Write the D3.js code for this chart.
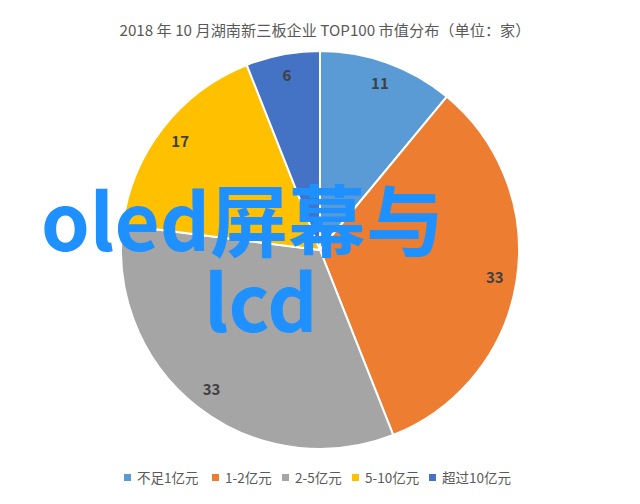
<!DOCTYPE html>
<html><head><meta charset="utf-8">
<script src="https://cdn.jsdelivr.net/npm/d3@7/dist/d3.min.js"></script>
<style>body{margin:0;background:#fff;}svg{display:block;}</style>
</head><body>
<svg id="c" width="640" height="504"></svg>
<script>
const categories = ["不足1亿元", "1-2亿元", "2-5亿元", "5-10亿元", "超过10亿元"];
const values = [11, 33, 33, 17, 6];
const colors = ["#5B9BD5", "#ED7D31", "#A5A5A5", "#FFC000", "#4472C4"];
const title = "2018 年 10 月湖南新三板企业 TOP100 市值分布（单位：家）";
const overlay = ["oled屏幕与", "lcd"];

const svg = d3.select("#c");
const font = "'Noto Sans CJK SC','Noto Sans',sans-serif";
const cx = 320, cy = 250, R = 199, LR = 177;

svg.append("text").attr("x", 325).attr("y", 36).attr("text-anchor", "middle")
  .attr("font-family", font).attr("font-size", 15.2).attr("fill", "#595959").text(title);

const pie = d3.pie().sort(null).value(d => d)(values);
const arc = d3.arc().innerRadius(0).outerRadius(R);
const larc = d3.arc().innerRadius(LR).outerRadius(LR);
const g = svg.append("g").attr("transform", `translate(${cx},${cy})`);
g.selectAll("path").data(pie).join("path").attr("d", arc)
  .attr("fill", (d, i) => colors[i]).attr("stroke", "#fff").attr("stroke-width", 2);
g.selectAll("text").data(pie).join("text")
  .attr("transform", d => `translate(${larc.centroid(d)})`)
  .attr("text-anchor", "middle").attr("dy", "0.35em")
  .attr("font-family", font).attr("font-size", 15).attr("font-weight", "bold").attr("fill", "#404040")
  .text(d => d.data);

// legend
const lx = [124, 212, 282, 352, 429];
const lg = svg.append("g");
categories.forEach((c, i) => {
  lg.append("rect").attr("x", lx[i]).attr("y", 474).attr("width", 7).attr("height", 7).attr("fill", colors[i]);
  lg.append("text").attr("x", lx[i] + 13).attr("y", 483).attr("font-family", font)
    .attr("font-size", 13.5).attr("fill", "#595959").text(c);
});

// overlay text
svg.append("text").attr("x", 41).attr("y", 251).attr("font-family", font)
  .attr("font-size", 78).attr("font-weight", "bold").attr("fill", "#1E90FF").text(overlay[0]);
svg.append("text").attr("x", 204).attr("y", 332).attr("font-family", font)
  .attr("font-size", 78).attr("font-weight", "bold").attr("fill", "#1E90FF").text(overlay[1]);
</script>
</body></html>
